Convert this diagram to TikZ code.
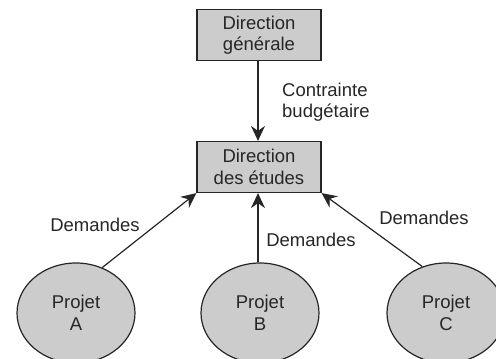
\documentclass[tikz,border=0pt]{standalone}
\usepackage{fontspec}
\setmainfont{Liberation Sans}
\usetikzlibrary{arrows.meta,shapes.geometric}
\begin{document}
\begin{tikzpicture}[x=1pt,y=-1pt,
  every node/.style={font=\fontsize{18.5}{21.5}\selectfont, text=black!85},
  boxnode/.style={draw=black!85, fill=gray!40, line width=1.2pt, minimum width=124pt, minimum height=51pt, inner sep=0pt, align=center},
  projnode/.style={draw=black!85, fill=gray!40, line width=1.2pt, ellipse, minimum width=118pt, minimum height=100pt, inner sep=0pt, align=center},
  lbl/.style={inner sep=0pt, align=left},
  conn/.style={draw=black!85, line width=1.2pt, -{Stealth[length=15pt,width=14pt,inset=5pt]}}]
\useasboundingbox (0,0) rectangle (496,359);
\node[boxnode] (dg) at (259,35) {Direction\\générale};
\node[boxnode] (de) at (259,167) {Direction\\des études};
\node[projnode] (A) at (76,313) {Projet\\A};
\node[projnode] (B) at (260,313) {Projet\\B};
\node[projnode] (C) at (446,313) {Projet\\C};
\draw[conn] (dg.south -| 258,0) -- (de.north -| 258,0);
\draw[conn] (A.60) -- (de.south west);
\draw[conn] (B.north -| 258,0) -- (de.south -| 258,0);
\draw[conn] (C.117) -- (de.south east);
\node[lbl, anchor=west] (lc) at (282,102) {Contrainte\\budgétaire};
\node[lbl] (la) at (95,225) {Demandes};
\node[lbl] (lb) at (311,240) {Demandes};
\node[lbl] (lcc) at (424,218) {Demandes};
\end{tikzpicture}
\end{document}
